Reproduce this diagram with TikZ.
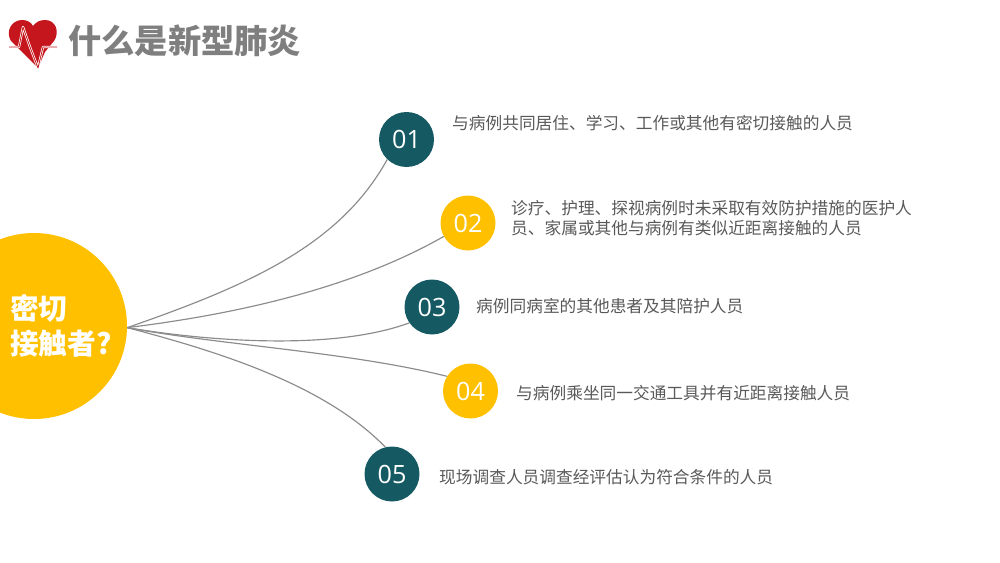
\documentclass[tikz,border=0pt]{standalone}
\usepackage{fontspec}
\setmainfont{Noto Sans CJK SC}
\newfontfamily\numfont{Open Sans}
\definecolor{teal1}{HTML}{155A63}
\definecolor{gold1}{HTML}{FFC000}
\definecolor{heart1}{HTML}{C4161C}
\definecolor{text1}{HTML}{595959}
\definecolor{title1}{HTML}{7F7F7F}
\definecolor{link1}{HTML}{8C8C8C}
\tikzset{
  numdot/.style={circle, minimum size=55*0.03cm, inner sep=0pt, text=white, font=\numfont\fontsize{21.5}{24}\selectfont},
  itemtext/.style={anchor=west, inner sep=0pt, text=text1, align=left, font=\fontsize{14.25}{17}\selectfont},
  link/.style={draw=link1, line width=1pt}
}
\begin{document}
\begin{tikzpicture}[x=0.03cm, y=-0.03cm]
            \useasboundingbox (0,0) rectangle (1000,563);

            % Title
            \fill[heart1] (38,68) -- (11,41) .. controls (5,31) and (12,20) .. (22,20) .. controls (27,20) and (31,22) .. (33,26) .. controls (36,22) and (40,20) .. (45,20) .. controls (56,20) and (60,32) .. (54,41) -- (45,52) -- cycle;
            \draw[white, line width=2pt, line join=round] (9,47) -- (19,47) -- (23,27) -- (30,47) -- (38,68) -- (43,47) -- (57,47);
            \draw[heart1, line width=0.7pt, line join=round] (9,47) -- (19,47) -- (23,27) -- (30,47) -- (38,68) -- (43,47) -- (57,47);
            \node[anchor=west, inner sep=0pt, text=title1, font=\fontsize{28.4}{32}\selectfont\bfseries] (title) at (68,41) {什么是新型肺炎};

            % Hub
            \node[circle, fill=gold1, minimum size=186*0.03cm, inner sep=0pt] (hub) at (34,326) {};
            \node[anchor=west, inner sep=0pt, text=white, align=left, font=\fontsize{24.5}{30}\selectfont\bfseries] (hubtext) at (10,326) {密切\\接触者?};

            % Numbered circles
            \node[numdot, fill=teal1] (n1) at (406.5,139.5) {01};
            \node[numdot, fill=gold1] (n2) at (468,223) {02};
            \node[numdot, fill=teal1] (n3) at (432,307) {03};
            \node[numdot, fill=gold1] (n4) at (470.5,391) {04};
            \node[numdot, fill=teal1] (n5) at (392,474) {05};

            % Lines
            \draw[link] (hub.-1) .. controls (250,285) and (340,245) .. (n1.226);
            \draw[link] (hub.-1) .. controls (230,315) and (350,290) .. (n2.209);
            \draw[link] (hub.-1) .. controls (200,340) and (330,352) .. (n3.215);
            \draw[link] (hub.-1) .. controls (220,345) and (350,352) .. (n4.148);
            \draw[link] (hub.-1) .. controls (220,352) and (325,385) .. (n5.104);

            % Texts
            \node[itemtext] (t1) at (452,123.5) {与病例共同居住、学习、工作或其他有密切接触的人员};
            \node[itemtext] (t2) at (511,218.5) {诊疗、护理、探视病例时未采取有效防护措施的医护人\\员、家属或其他与病例有类似近距离接触的人员};
            \node[itemtext] (t3) at (476,306.5) {病例同病室的其他患者及其陪护人员};
            \node[itemtext] (t4) at (516,393.5) {与病例乘坐同一交通工具并有近距离接触人员};
            \node[itemtext] (t5) at (439,477.5) {现场调查人员调查经评估认为符合条件的人员};
        \end{tikzpicture}
\end{document}
